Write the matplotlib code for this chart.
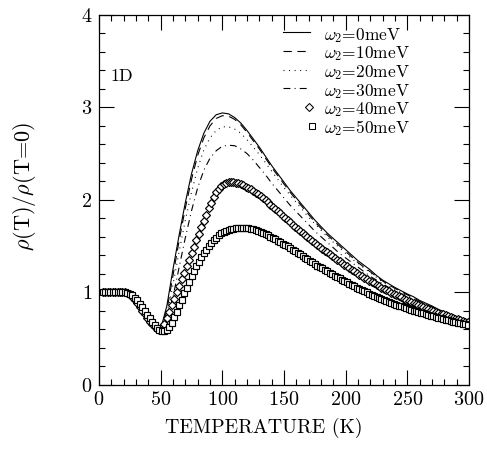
import numpy as np
import matplotlib
matplotlib.use("Agg")
import matplotlib.pyplot as plt

# ---------------- data ----------------
T_line = np.arange(5, 301, 5)          # temperature grid of the line curves (K)
T_mark = np.arange(3, 301, 2)          # temperature grid of the marker curves (K)

rho_0meV = [1.00, 1.00, 1.00, 0.995, 0.97, 0.90, 0.80, 0.70, 0.62, 0.60,
            0.85, 1.25, 1.62, 1.97, 2.28, 2.53, 2.72, 2.85, 2.92, 2.94,
            2.93, 2.89, 2.83, 2.75, 2.66, 2.57, 2.47, 2.37, 2.28, 2.19,
            2.10, 2.02, 1.94, 1.86, 1.78, 1.71, 1.64, 1.58, 1.52, 1.46,
            1.40, 1.34, 1.29, 1.24, 1.18, 1.13, 1.09, 1.05, 1.015, 0.98,
            0.95, 0.91, 0.88, 0.85, 0.815, 0.785, 0.76, 0.73, 0.705, 0.68]

rho_10meV = [1.00, 1.00, 1.00, 0.995, 0.97, 0.90, 0.80, 0.70, 0.62, 0.60,
             0.80, 1.18, 1.56, 1.91, 2.22, 2.48, 2.67, 2.80, 2.88, 2.91,
             2.905, 2.87, 2.81, 2.73, 2.64, 2.55, 2.45, 2.35, 2.26, 2.17,
             2.08, 2.00, 1.92, 1.84, 1.76, 1.69, 1.62, 1.56, 1.50, 1.44,
             1.38, 1.32, 1.27, 1.22, 1.17, 1.12, 1.08, 1.04, 1.005, 0.97,
             0.94, 0.90, 0.87, 0.84, 0.81, 0.78, 0.755, 0.725, 0.70, 0.68]

rho_20meV = [1.00, 1.00, 1.00, 0.995, 0.97, 0.90, 0.80, 0.70, 0.62, 0.60,
             0.75, 1.08, 1.44, 1.78, 2.08, 2.34, 2.54, 2.67, 2.75, 2.79,
             2.79, 2.765, 2.72, 2.65, 2.57, 2.49, 2.40, 2.31, 2.22, 2.13,
             2.05, 1.97, 1.89, 1.81, 1.74, 1.67, 1.60, 1.54, 1.48, 1.42,
             1.36, 1.31, 1.26, 1.21, 1.16, 1.11, 1.07, 1.03, 0.995, 0.96,
             0.93, 0.895, 0.865, 0.835, 0.805, 0.775, 0.75, 0.72, 0.70, 0.675]

rho_30meV = [1.00, 1.00, 1.00, 0.995, 0.97, 0.90, 0.80, 0.70, 0.62, 0.60,
             0.70, 0.95, 1.27, 1.59, 1.88, 2.13, 2.32, 2.45, 2.53, 2.58,
             2.59, 2.585, 2.55, 2.50, 2.43, 2.35, 2.27, 2.18, 2.10, 2.02,
             1.94, 1.87, 1.80, 1.73, 1.66, 1.60, 1.54, 1.48, 1.42, 1.37,
             1.32, 1.27, 1.22, 1.17, 1.13, 1.09, 1.05, 1.01, 0.98, 0.95,
             0.92, 0.885, 0.855, 0.83, 0.80, 0.77, 0.745, 0.72, 0.695, 0.675]

rho_40meV = [1.00, 1.00, 1.00, 1.00, 1.00, 1.00, 1.00, 1.00, 1.00, 1.00,
             0.99, 0.975, 0.95, 0.92, 0.88, 0.84, 0.80, 0.76, 0.72, 0.68,
             0.65, 0.62, 0.60, 0.59, 0.61, 0.66, 0.72, 0.79, 0.86, 0.93,
             1.00, 1.07, 1.14, 1.21, 1.28, 1.35, 1.42, 1.49, 1.56, 1.63,
             1.70, 1.77, 1.84, 1.91, 1.97, 2.03, 2.08, 2.12, 2.15, 2.17,
             2.185, 2.19, 2.19, 2.19, 2.185, 2.178, 2.168, 2.156, 2.143, 2.128,
             2.112, 2.095, 2.077, 2.058, 2.038, 2.017, 1.995, 1.972, 1.948, 1.924,
             1.90, 1.876, 1.852, 1.828, 1.804, 1.78, 1.756, 1.732, 1.708, 1.685,
             1.662, 1.64, 1.618, 1.596, 1.574, 1.553, 1.532, 1.511, 1.49, 1.47,
             1.45, 1.43, 1.41, 1.39, 1.37, 1.35, 1.332, 1.314, 1.296, 1.278,
             1.26, 1.242, 1.224, 1.207, 1.19, 1.173, 1.157, 1.141, 1.125, 1.11,
             1.095, 1.08, 1.065, 1.05, 1.036, 1.022, 1.008, 0.994, 0.981, 0.968,
             0.955, 0.942, 0.93, 0.918, 0.906, 0.894, 0.882, 0.871, 0.86, 0.849,
             0.838, 0.827, 0.817, 0.807, 0.797, 0.787, 0.777, 0.767, 0.758, 0.749,
             0.74, 0.731, 0.722, 0.713, 0.705, 0.697, 0.689, 0.681, 0.673]

rho_50meV = [1.00, 1.00, 1.00, 1.00, 1.00, 1.00, 1.00, 1.00, 1.00, 1.00,
             0.995, 0.985, 0.965, 0.94, 0.91, 0.875, 0.835, 0.795, 0.755, 0.715,
             0.68, 0.645, 0.615, 0.595, 0.58, 0.575, 0.585, 0.62, 0.67, 0.73,
             0.79, 0.86, 0.92, 0.99, 1.05, 1.11, 1.17, 1.23, 1.28, 1.33,
             1.38, 1.42, 1.46, 1.50, 1.535, 1.565, 1.59, 1.615, 1.635, 1.65,
             1.665, 1.675, 1.683, 1.688, 1.692, 1.694, 1.695, 1.695, 1.694, 1.69,
             1.685, 1.678, 1.67, 1.66, 1.65, 1.64, 1.628, 1.615, 1.60, 1.585,
             1.57, 1.555, 1.54, 1.525, 1.51, 1.495, 1.478, 1.46, 1.443, 1.425,
             1.408, 1.39, 1.373, 1.356, 1.339, 1.322, 1.305, 1.288, 1.272, 1.256,
             1.24, 1.224, 1.208, 1.193, 1.178, 1.163, 1.148, 1.134, 1.12, 1.106,
             1.091, 1.077, 1.063, 1.049, 1.036, 1.023, 1.010, 0.997, 0.984, 0.973,
             0.961, 0.949, 0.937, 0.926, 0.916, 0.905, 0.894, 0.884, 0.874, 0.865,
             0.855, 0.845, 0.836, 0.827, 0.819, 0.810, 0.801, 0.792, 0.784, 0.777,
             0.769, 0.761, 0.753, 0.745, 0.738, 0.731, 0.724, 0.716, 0.709, 0.703,
             0.696, 0.689, 0.682, 0.676, 0.670, 0.664, 0.657, 0.651, 0.645]

legend_labels = [r"$\omega_2$=0meV", r"$\omega_2$=10meV", r"$\omega_2$=20meV",
                 r"$\omega_2$=30meV", r"$\omega_2$=40meV", r"$\omega_2$=50meV"]

x_ticks = [0, 50, 100, 150, 200, 250, 300]
y_ticks = [0, 1, 2, 3, 4]

# ---------------- style ----------------
plt.rcParams["font.family"] = "serif"
plt.rcParams["font.serif"] = ["cmr10", "DejaVu Serif"]
plt.rcParams["mathtext.fontset"] = "cm"
plt.rcParams["axes.formatter.use_mathtext"] = True
plt.rcParams["axes.unicode_minus"] = False
plt.rcParams["lines.scale_dashes"] = False

fig = plt.figure(figsize=(4.87, 4.49), dpi=100)
ax = fig.add_axes([99/487, (449-384.5)/449, 370/487, 369.5/449])

lw = 0.8
styles = ["-", (0, (6, 4)), (0, (0.7, 3.3)), (0, (5, 3, 0.7, 3))]
line_series = [rho_0meV, rho_10meV, rho_20meV, rho_30meV]
for ys, ls in zip(line_series, styles):
    ax.plot(T_line, ys, color="black", lw=lw, linestyle=ls)

ax.plot(T_mark, rho_40meV, linestyle="none", marker="D", ms=3.9,
        mfc="white", mec="black", mew=0.85)
ax.plot(T_mark, rho_50meV, linestyle="none", marker="s", ms=4.3,
        mfc="white", mec="black", mew=0.85)

ax.set_xlim(0, 300)
ax.set_ylim(0, 4)
ax.set_xticks(x_ticks)
ax.set_yticks(y_ticks)
ax.set_xticks(np.arange(0, 301, 10), minor=True)
ax.set_yticks(np.arange(0, 4.01, 0.2), minor=True)
ax.tick_params(which="both", direction="in", top=True, right=True,
               width=0.8, labelsize=14.5)
ax.tick_params(which="major", length=11)
ax.tick_params(which="minor", length=4.5)
ax.tick_params(axis="x", pad=5)
ax.tick_params(axis="y", pad=5)
for s in ax.spines.values():
    s.set_linewidth(0.9)

ax.set_xlabel("TEMPERATURE (K)", fontsize=14.3)
ax.xaxis.label.set_va("center")
ax.xaxis.set_label_coords(0.445, -0.118)
ax.set_ylabel(r"$\rho$(T)/$\rho$(T=0)", fontsize=16)
ax.yaxis.label.set_va("center")
ax.yaxis.set_label_coords(-0.2, 0.537)

ax.text(0.032, 0.821, "1D", transform=ax.transAxes, fontsize=13,
        ha="left", va="baseline")

# manual legend
row0, drow = 0.953, 0.0506
for i, lab in enumerate(legend_labels):
    yy = row0 - i * drow
    if i < 4:
        ax.plot([0.497, 0.570], [yy, yy], transform=ax.transAxes, color="black",
                lw=lw, linestyle=styles[i], clip_on=False)
    elif i == 4:
        ax.plot([0.568], [yy], transform=ax.transAxes, linestyle="none",
                marker="D", ms=3.7, mfc="white", mec="black", mew=0.75)
    else:
        ax.plot([0.575], [yy], transform=ax.transAxes, linestyle="none",
                marker="s", ms=4.4, mfc="white", mec="black", mew=0.75)
    ax.text(0.608, yy - 0.0195, lab, transform=ax.transAxes, fontsize=12.5,
            ha="left", va="baseline")

fig.savefig("out.png", dpi=100)
